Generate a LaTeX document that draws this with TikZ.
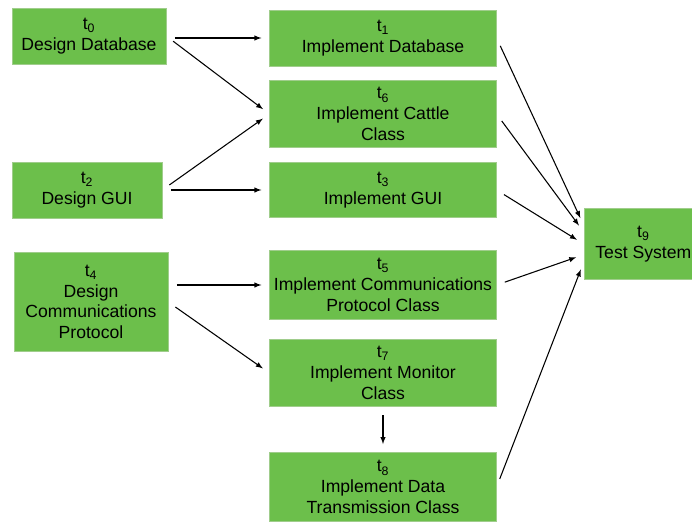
\documentclass[tikz,border=0pt]{standalone}
\usepackage{fontspec}
\setmainfont{Liberation Sans}
\usepackage{tikz}
\usetikzlibrary{arrows}
\definecolor{boxgreen}{RGB}{108,191,75}
\definecolor{boxedge}{RGB}{160,205,140}
\newcommand{\tnum}[1]{t\textsubscript{#1}}

\begin{document}
\begin{tikzpicture}[x=0.75pt,y=-0.75pt]
  \tikzset{task/.style={draw=boxedge,fill=boxgreen,align=center,inner sep=0pt,
      font=\fontsize{13.2}{15.5}\selectfont}}
  \tikzset{dep/.style={->,>=latex,line width=0.8pt,shorten <=6.5pt,shorten >=6pt}}
  \useasboundingbox (0,0) rectangle (692,522);
  % design tasks
  \node[task,minimum width=115.5pt,minimum height=42pt] (t0) at (89,36) {\tnum{0}\\Design Database};
  \node[task,minimum width=112.5pt,minimum height=42pt] (t2) at (87,190) {\tnum{2}\\Design GUI};
  \node[task,minimum width=115.5pt,minimum height=74pt] (t4) at (91,302) {\tnum{4}\\Design\\Communications\\Protocol};
  % implementation tasks
  \node[task,minimum width=170pt,minimum height=42pt] (t1) at (383,38) {\tnum{1}\\Implement Database};
  \node[task,minimum width=170pt,minimum height=50pt] (t6) at (383,114) {\tnum{6}\\Implement Cattle\\Class};
  \node[task,minimum width=170pt,minimum height=41pt] (t3) at (383,190) {\tnum{3}\\Implement GUI};
  \node[task,minimum width=170pt,minimum height=52pt] (t5) at (383,285) {\tnum{5}\\Implement Communications\\Protocol Class};
  \node[task,minimum width=170pt,minimum height=50pt] (t7) at (383,373) {\tnum{7}\\Implement Monitor\\Class};
  \node[task,minimum width=170pt,minimum height=52pt] (t8) at (383,487) {\tnum{8}\\Implement Data\\Transmission Class};
  % testing
  \node[task,minimum width=81pt,minimum height=53pt] (t9) at (638,244) {\hspace*{8pt}\tnum{9}\\\hspace*{8pt}Test System};
  \draw[dep] (t0.east |- t1) -- (t1.west);
  \draw[dep] (t0.east) -- (t6.west);
  \draw[dep] (t2.east) -- (t6.west);
  \draw[dep] (t2.east) -- (t3.west);
  \draw[dep] (t4.east |- t5) -- (t5.west);
  \draw[dep] (t4.east) -- (t7.west);
  \draw[dep] (t7.south) -- (t8.north);
  \draw[dep] (t1.east) -- ([yshift=14pt]t9.west);
  \draw[dep] (t6.east) -- ([yshift=9pt]t9.west);
  \draw[dep] (t3.east) -- (t9.west);
  \draw[dep] (t5.east) -- ([yshift=-8pt]t9.west);
  \draw[dep] (t8.east) -- ([yshift=-13.5pt]t9.west);
\end{tikzpicture}
\end{document}
